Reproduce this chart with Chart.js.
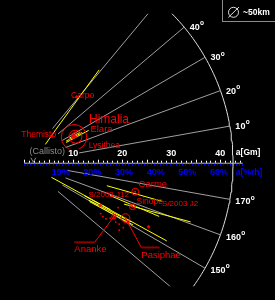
<!DOCTYPE html>
<html><head><meta charset="utf-8">
<script src="https://cdn.jsdelivr.net/npm/chart.js@4"></script>
<style>html,body{margin:0;padding:0;background:#000;overflow:hidden}canvas{display:block}</style>
</head><body>
<canvas id="c" width="275" height="300"></canvas>
<script>
// ---------- DATA ----------
const moonNames   = ['Himalia','Elara','Lysithea','Leda','Themisto','Carpo','Carme','Sinope','Pasiphae','Ananke','S/2003 J12','S/2003 J2'];
const moonDistGm  = [11.4, 11.7, 11.7, 11.2, 7.7, 17.1, 23.4, 23.8, 23.5, 21.3, 17.8, 28.5];
const moonInclDeg = [26.8, 26.6, 28.3, 27.5, 43.5, 51.0, 165.5, 158.0, 151.6, 149.2, 151.0, 153.0];
const moonDiamKm  = [170, 86, 36, 20, 8, 3, 46, 38, 58, 28, 1, 2];

// orbit ranges (pericentre -> apocentre) drawn as yellow segments
const segPeriGm   = [5.7, 9.3, 9.5, 9.6, 10.4, 17.5, 18.7, 22.0, 15.2, 15.5, 6.3, 14.0];
const segPeriIncl = [40.5, 46.0, 25.5, 27.0, 28.3, 164.6, 159.3, 157.7, 150.2, 149.5, 152.1, 151.5];
const segApoGm    = [9.3, 24.2, 14.7, 13.3, 13.0, 29.2, 29.6, 36.0, 24.9, 25.5, 20.0, 33.1];
const segApoIncl  = [46.0, 50.8, 26.4, 27.2, 28.3, 164.5, 158.5, 160.6, 151.3, 150.5, 151.7, 151.5];

// small unnamed moons
const smallDistGm  = [21.2, 19.4, 20.2, 20.8, 22.2, 23.7, 24.1, 24.4, 18.7, 23.0];
const smallInclDeg = [154.7, 145.9, 145.8, 147.5, 147.3, 144.9, 147.0, 150.2, 146.7, 147.4];

const gridInclDeg   = [10, 20, 30, 40, 50, 140, 150, 160, 170];
const inclLabelDeg  = [10, 20, 30, 40, 170, 160, 150];
const gmTickLabels  = [10, 20, 30, 40];
const rhTickLabels  = [10, 20, 30, 40, 50, 60];
const hillRadiusGm  = 64.5;
const axisMaxGm     = 44.6;
const arcRadiusGm   = 42.6;
const gridStartGm   = 9;
const callistoGm    = 1.88;

// ---------- LAYOUT / STYLE ----------
const labelLayout = {
  'Himalia':   {dx: 15,   dy: -18,  size: 12,  align: 'left'},
  'Elara':     {dx: 15,   dy: -7,   size: 9.5, align: 'left'},
  'Lysithea':  {dx: 14,   dy: 10,   size: 8.5, align: 'left'},
  'Themisto':  {dx: 4.7,  dy: -1.6, size: 8.5, align: 'right'},
  'Carpo':     {dx: 5.8,  dy: -1.6, size: 8.5, align: 'center'},
  'Carme':     {dx: 3.4,  dy: -7.6, size: 9.5, align: 'left'},
  'Sinope':    {dx: 4.2,  dy: -5.4, size: 8.5, align: 'left'},
  'Pasiphae':  {dx: 15.8, dy: 37.3, size: 9.5, align: 'left'},
  'Ananke':    {dx: -39.5,dy: 32.6, size: 9.5, align: 'left'},
  'S/2003 J12':{dx: -12,  dy: -10.2,size: 8,   align: 'left'},
  'S/2003 J2': {dx: 13.4, dy: -22.5,size: 8,   align: 'left'}
};
const leaders = {
  'Ananke':   {elbow: [-19.2, 25.6], end: [-39.5, 25.6]},
  'Pasiphae': {elbow: [15.8, 29.4],  end: [34.1, 29.4]}
};
const FONT = '"Liberation Sans", Arial, sans-serif';
const PX_PER_KM = 0.075;

function polar(a, incl) {
  const r = incl * Math.PI / 180;
  return {x: a * Math.abs(Math.cos(r)), y: (incl <= 90 ? 1 : -1) * a * Math.sin(r)};
}

const datasets = [];
gridInclDeg.forEach(d => datasets.push({
  data: [polar(gridStartGm, d), polar(arcRadiusGm, d)],
  showLine: true, borderColor: '#a0a0a0', borderWidth: 1, pointRadius: 0, order: 6
}));
const arcPts = [];
for (let t = -70; t <= 62; t += 1) arcPts.push({x: arcRadiusGm * Math.cos(t * Math.PI / 180), y: arcRadiusGm * Math.sin(t * Math.PI / 180)});
datasets.push({data: arcPts, showLine: true, borderColor: '#dddddd', borderWidth: 1, pointRadius: 0, order: 6});
segPeriGm.forEach((p, i) => datasets.push({
  data: [polar(p, segPeriIncl[i]), polar(segApoGm[i], segApoIncl[i])],
  showLine: true, borderColor: '#ffff00', borderWidth: 1, pointRadius: 0, order: 3
}));
datasets.push({
  data: smallDistGm.map((a, i) => polar(a, smallInclDeg[i])),
  pointRadius: 0.9, pointBackgroundColor: '#ff0000', pointBorderWidth: 0, order: 2
});
const moonPts = moonDistGm.map((a, i) => polar(a, moonInclDeg[i]));
datasets.push({
  data: moonPts,
  pointRadius: moonDiamKm.map(d => Math.max(1.2, d * PX_PER_KM)),
  pointBackgroundColor: 'rgba(0,0,0,0)', pointBorderColor: '#ff0000', pointBorderWidth: 1, order: 1
});
datasets.push({
  data: moonPts, pointRadius: 1, pointBackgroundColor: '#ff0000', pointBorderWidth: 0, order: 0
});

function txt(ctx, s, x, y, size, color, align, bold) {
  ctx.font = (bold ? 'bold ' : '') + size + 'px ' + FONT;
  ctx.fillStyle = color; ctx.textAlign = align || 'left'; ctx.textBaseline = 'middle';
  ctx.fillText(s, x, y);
  return ctx.measureText(s).width;
}

const overlay = {
  id: 'overlay',
  beforeDatasetsDraw(chart) {
    const ctx = chart.ctx, X = chart.scales.x, Y = chart.scales.y;
    const y0 = Y.getPixelForValue(0);
    ctx.save();
    ctx.strokeStyle = '#bbbbbb'; ctx.lineWidth = 1;
    ctx.beginPath(); ctx.moveTo(X.getPixelForValue(0), y0 + 0.5); ctx.lineTo(X.getPixelForValue(axisMaxGm), y0 + 0.5); ctx.stroke();
    ctx.strokeStyle = '#ffffff';
    for (let g = 0; g <= Math.floor(axisMaxGm); g++) {
      const x = Math.round(X.getPixelForValue(g)) + 0.5, L = g % 5 === 0 ? 3 : 2;
      ctx.beginPath(); ctx.moveTo(x, y0); ctx.lineTo(x, y0 - L); ctx.stroke();
    }
    ctx.strokeStyle = '#0000ff';
    for (let p = 0; p * hillRadiusGm / 100 <= axisMaxGm; p++) {
      const x = Math.round(X.getPixelForValue(p * hillRadiusGm / 100)) + 0.5;
      ctx.beginPath(); ctx.moveTo(x, y0 + 1); ctx.lineTo(x, y0 + 3); ctx.stroke();
    }
    ctx.restore();
  },
  afterDatasetsDraw(chart) {
    const ctx = chart.ctx, X = chart.scales.x, Y = chart.scales.y;
    const P = (pt) => [X.getPixelForValue(pt.x), Y.getPixelForValue(pt.y)];
    const y0 = Y.getPixelForValue(0);
    ctx.save();
    gmTickLabels.forEach(v => {
      const x = X.getPixelForValue(v);
      ctx.fillStyle = '#000'; ctx.fillRect(x - 6, y0 - 14, 12, 9);
      txt(ctx, String(v), x, y0 - 9.5, 9, '#ffffff', 'center', true);
    });
    txt(ctx, 'a[Gm]', X.getPixelForValue(axisMaxGm) - 7, y0 - 10, 8.5, '#ffffff', 'left', true);
    rhTickLabels.forEach(v => txt(ctx, v + '%', X.getPixelForValue(v * hillRadiusGm / 100) + 5, y0 + 10, 9, '#0000ff', 'center', true));
    txt(ctx, 'a[%rh]', X.getPixelForValue(axisMaxGm) - 7, y0 + 10, 8.5, '#0000ff', 'left', true);
    inclLabelDeg.forEach(d => {
      const [x, y] = P(polar(arcRadiusGm, d));
      const yy = y + (d > 90 ? 2.5 : 0.5);
      const w = txt(ctx, String(d), x + 5.5, yy, 9, '#ffffff', 'left', true);
      txt(ctx, 'o', x + 5.8 + w, yy - 4, 6.5, '#ffffff', 'left', true);
    });
    const cx = X.getPixelForValue(callistoGm);
    txt(ctx, '(Callisto)', cx + 14, y0 - 11, 9, '#8c8c8c', 'center', false);
    ctx.strokeStyle = '#8c8c8c'; ctx.lineWidth = 1;
    ctx.beginPath(); ctx.moveTo(cx - 2.5, y0 - 5); ctx.lineTo(cx, y0 - 0.5); ctx.lineTo(cx + 2.5, y0 - 5); ctx.stroke();
    Object.keys(leaders).forEach(n => {
      const i = moonNames.indexOf(n), [mx, my] = P(moonPts[i]), L = leaders[n];
      ctx.strokeStyle = '#ff0000'; ctx.lineWidth = 1;
      ctx.beginPath(); ctx.moveTo(mx, my); ctx.lineTo(mx + L.elbow[0], my + L.elbow[1]); ctx.stroke();
      ctx.strokeStyle = '#8b0000'; ctx.lineWidth = 2;
      ctx.beginPath(); ctx.moveTo(mx + L.elbow[0], my + L.elbow[1]); ctx.lineTo(mx + L.end[0], my + L.end[1]); ctx.stroke();
    });
    moonNames.forEach((n, i) => {
      const L = labelLayout[n]; if (!L) return;
      const [mx, my] = P(moonPts[i]);
      txt(ctx, n, mx + L.dx, my + L.dy, L.size, '#ff0000', L.align, false);
    });
    ctx.strokeStyle = '#8c8c8c'; ctx.lineWidth = 1;
    ctx.strokeRect(222.5, -1.5, 60, 23);
    ctx.strokeStyle = '#dddddd';
    ctx.beginPath(); ctx.arc(233.5, 12.3, 5, 0, Math.PI * 2); ctx.stroke();
    ctx.beginPath(); ctx.moveTo(228.3, 17.5); ctx.lineTo(239, 7); ctx.stroke();
    txt(ctx, '~50km', 243, 12.3, 8.5, '#ffffff', 'left', true);
    ctx.restore();
  }
};

new Chart(document.getElementById('c'), {
  type: 'scatter',
  data: {datasets},
  options: {
    responsive: false, animation: false, events: [],
    layout: {padding: 0},
    plugins: {legend: {display: false}, tooltip: {enabled: false}},
    scales: {
      x: {type: 'linear', display: false, min: -2.11, max: 48.35},
      y: {type: 'linear', display: false, min: -24.95, max: 30.09}
    }
  },
  plugins: [overlay]
});
</script>
</body></html>
